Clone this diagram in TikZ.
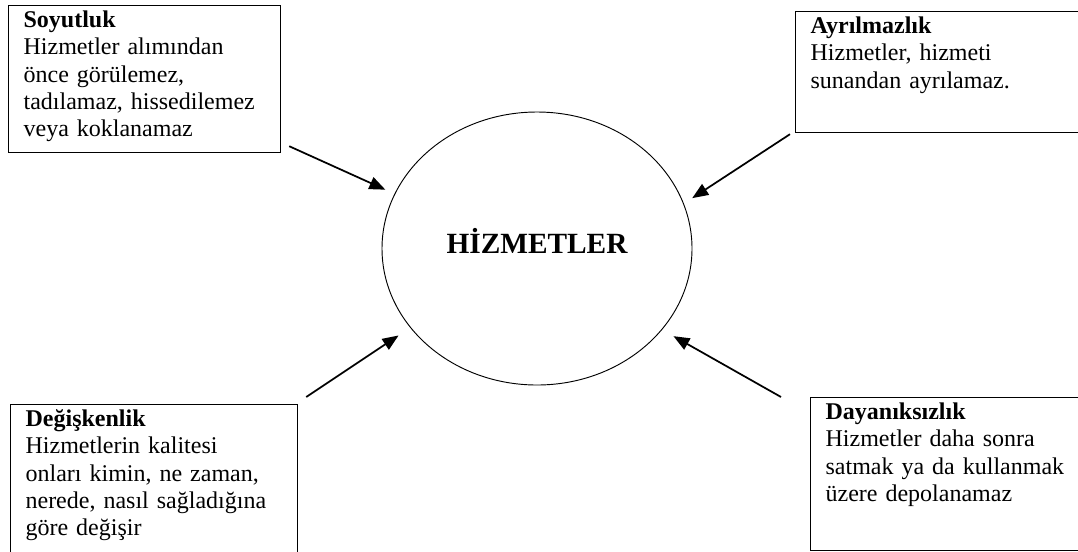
\documentclass[tikz,border=0pt]{standalone}
\usepackage{fontspec}
\setmainfont{Liberation Serif}
\usetikzlibrary{shapes.geometric,arrows.meta}
\tikzset{feat/.style={draw,line width=0.9pt,anchor=north west,align=left,inner xsep=11.25pt,inner ysep=4.5pt,text height=12pt,font=\fontsize{18}{20.5}\selectfont},
         core/.style={draw,ellipse,line width=0.7pt,minimum width=232.5pt,minimum height=204.75pt,inner sep=0pt,text height=14.2pt,text depth=6pt,font=\fontsize{22}{26}\selectfont\bfseries},
         arr/.style={-{Triangle[length=12pt,width=9.5pt]},line width=1.3pt}}
\begin{document}
\begin{tikzpicture}[x=0.75pt,y=-0.75pt]
 \useasboundingbox (0,0) rectangle (1078,551);
 \node[core] (hiz) at (537,248.5) {HİZMETLER};
 \node[feat,text width=181.5pt,text depth=89.25pt] (soy) at (8,5) {\textbf{Soyutluk}\\ Hizmetler alımından\\ önce görülemez,\\ tadılamaz, hissedilemez\\ veya koklanamaz};
 \node[feat,text width=198.75pt,text depth=69.75pt] (ayr) at (795,11) {\textbf{Ayrılmazlık}\\ Hizmetler, hizmeti\\ sunandan ayrılamaz.};
 \node[feat,text width=192.75pt,text depth=96pt] (deg) at (10,404) {\textbf{Değişkenlik}\\ Hizmetlerin kalitesi\\ onları kimin, ne zaman,\\ nerede, nasıl sağladığına\\ göre değişir};
 \node[feat,text width=187.5pt,text depth=93.75pt] (day) at (810,397) {\textbf{Dayanıksızlık}\\ Hizmetler daha sonra\\ satmak ya da kullanmak\\ üzere depolanamaz};
 \draw[arr,shorten >=7.5pt] ([shift={(8,-7)}]soy.south east) -- (hiz.159);
 \draw[arr,shorten >=7.5pt] ([shift={(-5,1)}]ayr.south west) -- (hiz.17.7);
 \draw[arr,shorten >=10.5pt] ([shift={(8,-7)}]deg.north east) -- (hiz.212);
 \draw[arr,shorten >=9.75pt] ([shift={(-29,0)}]day.north west) -- (hiz.327.7);
\end{tikzpicture}
\end{document}
